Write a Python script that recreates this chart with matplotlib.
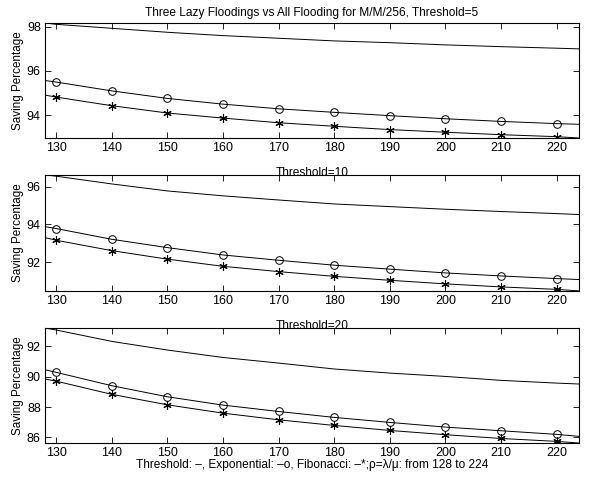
import numpy as np
import matplotlib
matplotlib.use('Agg')
import matplotlib.pyplot as plt

plt.rcParams['font.family'] = ['Liberation Sans', 'DejaVu Sans']

# rho = lambda/mu sample points (curve ends at 128 and 224, markers every 10)
rho = [128, 130, 140, 150, 160, 170, 180, 190, 200, 210, 220, 224]

# threshold = 5
thr5_threshold = [98.17, 98.11, 97.93, 97.75, 97.60, 97.48, 97.36, 97.28, 97.18, 97.10, 97.03, 97.00]
thr5_exponential = [95.57, 95.50, 95.10, 94.76, 94.50, 94.29, 94.13, 93.98, 93.84, 93.72, 93.62, 93.59]
thr5_fibonacci = [94.91, 94.82, 94.43, 94.10, 93.87, 93.66, 93.50, 93.35, 93.23, 93.12, 93.03, 92.97]

# threshold = 10
thr10_threshold = [96.62, 96.55, 96.14, 95.77, 95.51, 95.29, 95.08, 94.94, 94.80, 94.68, 94.57, 94.52]
thr10_exponential = [93.88, 93.78, 93.21, 92.77, 92.38, 92.10, 91.84, 91.63, 91.43, 91.27, 91.13, 91.08]
thr10_fibonacci = [93.30, 93.16, 92.61, 92.16, 91.78, 91.50, 91.25, 91.04, 90.85, 90.69, 90.56, 90.48]

# threshold = 20
thr20_threshold = [93.21, 93.08, 92.33, 91.76, 91.27, 90.90, 90.51, 90.24, 90.02, 89.76, 89.58, 89.52]
thr20_exponential = [90.46, 90.29, 89.41, 88.68, 88.13, 87.71, 87.32, 86.99, 86.68, 86.44, 86.20, 86.07]
thr20_fibonacci = [89.85, 89.71, 88.84, 88.15, 87.60, 87.16, 86.79, 86.46, 86.18, 85.93, 85.74, 85.63]

panels = [
    ('Three Lazy Floodings vs All Flooding for M/M/256, Threshold=5',
     thr5_threshold, thr5_exponential, thr5_fibonacci, [94, 96, 98]),
    ('Threshold=10', thr10_threshold, thr10_exponential, thr10_fibonacci, [92, 94, 96]),
    ('Threshold=20', thr20_threshold, thr20_exponential, thr20_fibonacci, [86, 88, 90, 92]),
]
xticks = [130, 140, 150, 160, 170, 180, 190, 200, 210, 220]

fig = plt.figure(figsize=(5.92, 4.8), dpi=100)
boxes = [(0.076, 0.7125, 0.902, 0.2396),
         (0.076, 0.394, 0.902, 0.2417),
         (0.076, 0.077, 0.902, 0.2396)]

marks = list(range(1, len(rho) - 1))
for i, (title, thr, expo, fib, yt) in enumerate(panels):
    ax = fig.add_axes(boxes[i])
    ax.plot(rho, thr, '-', color='black', lw=0.7)
    ax.plot(rho, expo, '-o', color='black', lw=0.7, ms=5.5, mfc='none',
            mew=0.7, markevery=marks)
    ax.plot(rho, fib, '-', color='black', lw=0.7, marker=(6, 2, 0), ms=6,
            mew=0.8, markevery=marks)
    allv = thr + expo + fib
    ax.set_xlim(128, 224)
    ax.set_ylim(min(allv), max(allv))
    ax.set_xticks(xticks)
    ax.set_yticks(yt)
    ax.tick_params(direction='in', top=True, right=True, length=4,
                   width=0.6, labelsize=9, pad=3)
    for s in ax.spines.values():
        s.set_linewidth(0.8)
    ax.set_ylabel('Saving Percentage', fontsize=8.4, labelpad=2)
    if i == 0:
        ax.set_title(title, fontsize=8.6, pad=5)
    else:
        ax.set_title(title, fontsize=8.6, pad=-1)
    if i == 2:
        ax.set_xlabel('Threshold: \u2013, Exponential: \u2013o, Fibonacci: \u2013*;\u03c1=\u03bb/\u03bc: from 128 to 224',
                      fontsize=8.6, labelpad=0)

fig.savefig('out.png', dpi=100)
